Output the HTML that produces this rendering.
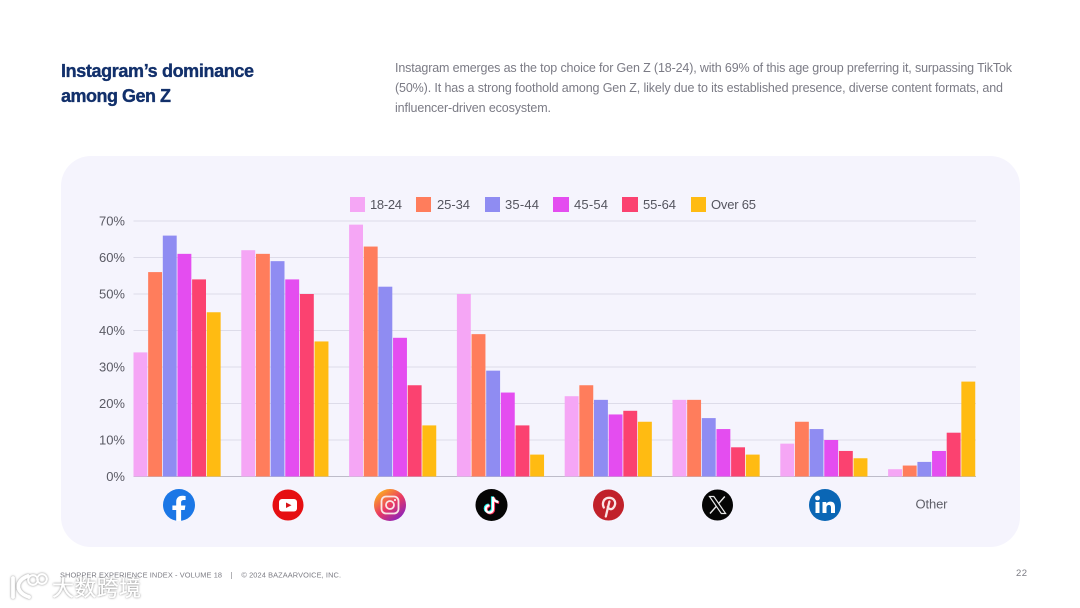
<!DOCTYPE html>
<html lang="en">
<head>
<meta charset="utf-8">
<title>Instagram's dominance among Gen Z</title>
<style>
html,body{margin:0;padding:0;background:#fff;}
body{width:1080px;height:608px;overflow:hidden;font-family:"Liberation Sans","Noto Sans CJK SC",sans-serif;}
svg{display:block;}
text{font-family:"Liberation Sans","Noto Sans CJK SC",sans-serif;}
</style>
</head>
<body>
<svg id="page" xmlns="http://www.w3.org/2000/svg" width="1080" height="608" viewBox="0 0 1080 608">
  <defs>
    <linearGradient id="ig-gradient" x1="0.1" y1="0.1" x2="0.8" y2="1">
      <stop offset="0" stop-color="#fdb01e"/>
      <stop offset="0.5" stop-color="#ea3a62"/>
      <stop offset="1" stop-color="#8420c4"/>
    </linearGradient>
    <filter id="wm-shadow" x="-10%" y="-30%" width="120%" height="160%">
      <feDropShadow dx="0" dy="0" stdDeviation="1" flood-color="#000" flood-opacity="0.55"/>
    </filter>
  </defs>

  <rect x="0" y="0" width="1080" height="608" fill="#ffffff"/>

  <g fill="#12306b" stroke="#12306b" stroke-width="0.35" font-weight="700" font-size="18">
    <text x="61" y="77" textLength="193">Instagram’s dominance</text>
    <text x="61" y="102" textLength="110">among Gen Z</text>
  </g>

  <g fill="#7b7b85" font-size="12.5">
    <text x="395" y="72" textLength="617">Instagram emerges as the top choice for Gen Z (18-24), with 69% of this age group preferring it, surpassing TikTok</text>
    <text x="395" y="92" textLength="608">(50%). It has a strong foothold among Gen Z, likely due to its established presence, diverse content formats, and</text>
    <text x="395" y="112" textLength="156">influencer-driven ecosystem.</text>
  </g>

  <rect x="61" y="156" width="959" height="391" rx="30" fill="#f5f4fd"/>

  <g id="grid"></g>
  <g id="y-axis"></g>
  <g id="bars"></g>

  <g font-size="13" fill="#55555f">
    <g>
      <rect x="350" y="197" width="15" height="15" fill="#f5a6f5"/>
      <text x="370" y="209" textLength="32">18-24</text>
    </g>
    <g>
      <rect x="416" y="197" width="15" height="15" fill="#ff7d5c"/>
      <text x="437" y="209" textLength="33">25-34</text>
    </g>
    <g>
      <rect x="485" y="197" width="15" height="15" fill="#8f8cf2"/>
      <text x="505" y="209" textLength="34">35-44</text>
    </g>
    <g>
      <rect x="553" y="197" width="16" height="15" fill="#e44df0"/>
      <text x="574" y="209" textLength="34">45-54</text>
    </g>
    <g>
      <rect x="622" y="197" width="16" height="15" fill="#fb4270"/>
      <text x="643" y="209" textLength="33">55-64</text>
    </g>
    <g>
      <rect x="691" y="197" width="15" height="15" fill="#ffbb12"/>
      <text x="711" y="209" textLength="45">Over 65</text>
    </g>
  </g>

  <g>
    <g>
      <circle cx="179" cy="505" r="16" fill="#1b77e6"/>
      <path d="M176.2 521 V510 H172.4 V505.5 H176.2 V502 C176.2 498 178.6 495.8 182.2 495.8 C183.9 495.8 185.6 496.1 185.6 496.1 V500 H183.7 C181.8 500 181.1 501.2 181.1 502.4 V505.5 H185.4 L184.7 510 H181.1 V521 Z" fill="#ffffff"/>
    </g>
    <g>
      <circle cx="288" cy="505" r="15.5" fill="#e60f12"/>
      <rect x="279" y="499" width="18" height="12.5" rx="3" fill="#ffffff"/>
      <path d="M286 502.5 L291.5 505.2 L286 508 Z" fill="#d81317"/>
    </g>
    <g>
      <circle cx="390" cy="505" r="16" fill="url(#ig-gradient)"/>
      <rect x="381.5" y="496.5" width="17" height="17" rx="4.5" fill="none" stroke="#f9e4e4" stroke-width="1.8"/>
      <circle cx="390" cy="505" r="4" fill="none" stroke="#f9e4e4" stroke-width="1.8"/>
      <circle cx="395" cy="500" r="1.1" fill="#f9e4e4"/>
    </g>
    <g>
      <circle cx="491.5" cy="505" r="16" fill="#050505"/>
      <path d="M493 497 V509 A3.6 3.6 0 1 1 489.4 505.4 M493 497 C493.6 500 495.6 501.8 498.4 502" fill="none" stroke="#25f4ee" stroke-width="2.6" transform="translate(-0.8 -0.6)"/>
      <path d="M493 497 V509 A3.6 3.6 0 1 1 489.4 505.4 M493 497 C493.6 500 495.6 501.8 498.4 502" fill="none" stroke="#fe2c55" stroke-width="2.6" transform="translate(0.8 0.6)"/>
      <path d="M493 497 V509 A3.6 3.6 0 1 1 489.4 505.4 M493 497 C493.6 500 495.6 501.8 498.4 502" fill="none" stroke="#ffffff" stroke-width="2.2"/>
    </g>
    <g>
      <circle cx="608.5" cy="505" r="15.5" fill="#c1212a"/>
      <path d="M603.8 507.5 C601.5 503 604 497.8 609 497.8 C613.5 497.8 615.8 501 615 504.6 C614.3 508 611.5 510 609.4 508.8 C608 508 607.8 507 607.8 507 M609.4 501.5 L605.8 516.5" fill="none" stroke="#fbe4e4" stroke-width="2.3" stroke-linecap="round"/>
    </g>
    <g>
      <circle cx="717.5" cy="505" r="15.5" fill="#050505"/>
      <path d="M709.5 496.5 H713.8 L725.6 513.5 H721.3 Z" fill="none" stroke="#e8e8e8" stroke-width="1.2"/>
      <path d="M724.8 496.5 L718.6 503.6 M716.3 506.4 L710 513.5" fill="none" stroke="#e8e8e8" stroke-width="1.4"/>
    </g>
    <g>
      <circle cx="825" cy="505" r="16" fill="#0a66b5"/>
      <rect x="815.5" y="502" width="4" height="11" fill="#ffffff"/>
      <circle cx="817.5" cy="498" r="2.4" fill="#ffffff"/>
      <path d="M822.5 502 H826.3 V503.7 C827.1 502.5 828.5 501.6 830.3 501.6 C833.6 501.6 835 503.6 835 507 V513 H831 V507.6 C831 506 830.4 505 829 505 C827.4 505 826.5 506.1 826.5 507.7 V513 H822.5 Z" fill="#ffffff"/>
    </g>
    <text x="915.5" y="508.5" font-size="13" fill="#5f5f68" textLength="32">Other</text>
  </g>

  <g fill="#7c7c84" font-size="7.4">
    <text x="60" y="577.5" textLength="281" xml:space="preserve">SHOPPER EXPERIENCE INDEX - VOLUME 18    |    © 2024 BAZAARVOICE, INC.</text>
    <text x="1016" y="576" font-size="9.5" textLength="11">22</text>
  </g>

  <g filter="url(#wm-shadow)">
    <path d="M13 578 V597 M28 576 C16 580 14 592 29 597" fill="none" stroke="#ffffff" stroke-width="3.6" stroke-linecap="round"/>
    <circle cx="33" cy="580" r="4.8" fill="none" stroke="#ffffff" stroke-width="1.8"/>
    <circle cx="42" cy="579" r="4.8" fill="none" stroke="#ffffff" stroke-width="1.8"/>
    <text x="52" y="596" font-size="22" fill="#ffffff" textLength="89" style='font-family:"Noto Sans CJK SC",sans-serif'>大数跨境</text>
  </g>
</svg>

<script>
const seriesNames = ["18-24", "25-34", "35-44", "45-54", "55-64", "Over 65"];
const categories = ["Facebook", "YouTube", "Instagram", "TikTok", "Pinterest", "X", "LinkedIn", "Other"];
const age18to24 = [34, 62, 69, 50, 22, 21, 9, 2];
const age25to34 = [56, 61, 63, 39, 25, 21, 15, 3];
const age35to44 = [66, 59, 52, 29, 21, 16, 13, 4];
const age45to54 = [61, 54, 38, 23, 17, 13, 10, 7];
const age55to64 = [54, 50, 25, 14, 18, 8, 7, 12];
const over65 = [45, 37, 14, 6, 15, 6, 5, 26];
const tickValues = [0, 10, 20, 30, 40, 50, 60, 70];

const seriesValues = [age18to24, age25to34, age35to44, age45to54, age55to64, over65];
const seriesColors = ["#f5a6f5", "#ff7d5c", "#8f8cf2", "#e44df0", "#fb4270", "#ffbb12"];

const NS = "http://www.w3.org/2000/svg";
const plotLeft = 133.5;
const plotRight = 976;
const plotBottom = 476.5;
const plotTop = 221;
const domainMax = 70;
const barStep = 14.65;
const barWidth = 13.9;
const groupWidth = barStep * seriesNames.length;
const groupStep = (plotRight - plotLeft - groupWidth) / (categories.length - 1);

function yScale(v) {
  return plotBottom - (v / domainMax) * (plotBottom - plotTop);
}
function xScale(categoryIndex, seriesIndex) {
  return plotLeft + categoryIndex * groupStep + seriesIndex * barStep;
}
function slug(s) {
  return s.toLowerCase().replace(/[^a-z0-9]+/g, "-");
}

const gridGroup = document.getElementById("grid");
const axisGroup = document.getElementById("y-axis");
const barsGroup = document.getElementById("bars");

tickValues.forEach(function (t) {
  const y = yScale(t);
  const line = document.createElementNS(NS, "line");
  
  
  line.setAttribute("x1", plotLeft);
  line.setAttribute("x2", plotRight);
  line.setAttribute("y1", y);
  line.setAttribute("y2", y);
  line.setAttribute("stroke", t === 0 ? "#bdbcc9" : "#dddce9");
  line.setAttribute("stroke-width", "1");
  gridGroup.appendChild(line);

  const label = document.createElementNS(NS, "text");
  
  
  label.setAttribute("x", 125);
  label.setAttribute("y", y + 4.5);
  label.setAttribute("text-anchor", "end");
  label.setAttribute("font-size", "13");
  label.setAttribute("fill", "#5a5a64");
  label.textContent = t + "%";
  axisGroup.appendChild(label);
});

categories.forEach(function (cat, c) {
  seriesValues.forEach(function (values, s) {
    const y = yScale(values[c]);
    const bar = document.createElementNS(NS, "rect");
    
    
    bar.setAttribute("x", xScale(c, s));
    bar.setAttribute("y", y);
    bar.setAttribute("width", barWidth);
    bar.setAttribute("height", plotBottom - y);
    bar.setAttribute("fill", seriesColors[s]);
    barsGroup.appendChild(bar);
  });
});
</script>
</body>
</html>
